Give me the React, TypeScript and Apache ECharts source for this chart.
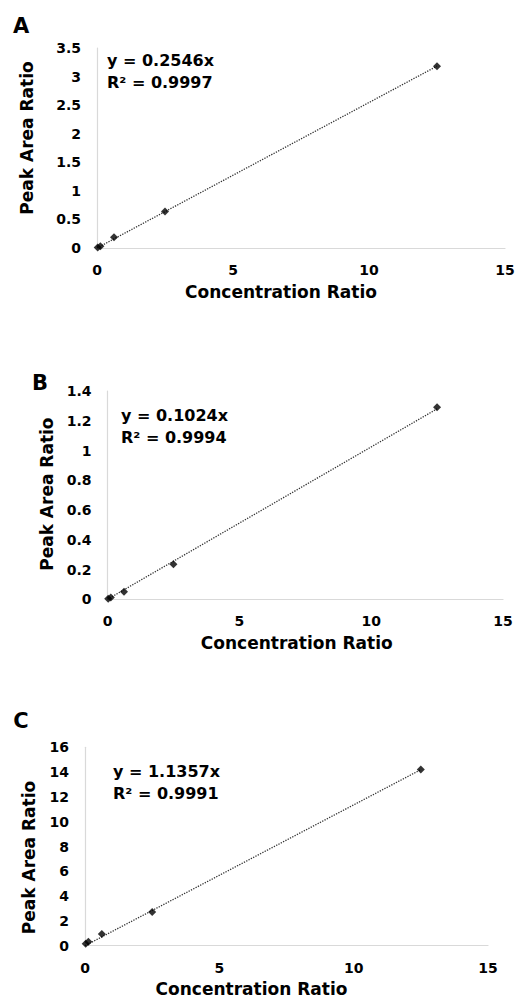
import React, { useEffect, useRef } from "react";
import * as echarts from "echarts";

const panelLetters = ["A", "B", "C"];
const concentrationRatio = [0.025, 0.125, 0.625, 2.5, 12.5];
const peakAreaA = [0.008, 0.03, 0.19, 0.64, 3.18];
const peakAreaB = [0.003, 0.012, 0.051, 0.235, 1.29];
const peakAreaC = [0.15, 0.32, 0.94, 2.72, 14.2];
const slopes = [0.2546, 0.1024, 1.1357];
const rSquared = ["0.9997", "0.9994", "0.9991"];
const yMax = [3.5, 1.4, 16];
const yInterval = [0.5, 0.2, 2];
const xTicks = [0, 5, 10, 15];

const FONT = "'DejaVu Sans', 'Liberation Sans', Arial, sans-serif";

export default function App() {
  const ref = useRef<HTMLDivElement>(null);
  useEffect(() => {
    if (!ref.current) return;
    const chart = echarts.init(ref.current, null, { renderer: "svg" });
    const peaks = [peakAreaA, peakAreaB, peakAreaC];
    const grids = [
      { left: 97, top: 48, width: 408, height: 200 },
      { left: 107.5, top: 391, width: 395.5, height: 208.3 },
      { left: 85, top: 747.3, width: 403, height: 198.4 },
    ];
    const nameGapY = [62, 52, 48];
    const yNamePad = [
      [0, 0, 0, 20],
      [0, 0, 0, 2],
      [0, 22, 0, 0],
    ];
    const xNamePad = [
      [0, 40, 0, 0],
      [0, 17, 0, 0],
      [0, 70, 0, 0],
    ];
    const letterPos = [
      [21, 26],
      [40, 383],
      [21, 721],
    ];
    const eqPos = [
      [107, 60, 82],
      [121, 415.7, 437.3],
      [113, 771, 793.3],
    ];
    const axisLabelStyle = {
      color: "#000",
      fontWeight: "bold" as const,
      fontFamily: FONT,
      fontSize: 14,
    };
    const nameStyle = {
      color: "#000",
      fontWeight: "bold" as const,
      fontFamily: FONT,
      fontSize: 17,
    };
    const xAxes = grids.map((_, i) => ({
      type: "value",
      gridIndex: i,
      min: xTicks[0],
      max: xTicks[xTicks.length - 1],
      interval: 5,
      axisLine: { lineStyle: { color: "#d9d9d9", width: 1.2 } },
      axisTick: { show: false },
      splitLine: { show: false },
      axisLabel: { ...axisLabelStyle, margin: 15 },
      name: "Concentration Ratio",
      nameLocation: "middle",
      nameGap: 35,
      nameTextStyle: { ...nameStyle, verticalAlign: "top", padding: xNamePad[i] },
    }));
    const yAxes = grids.map((_, i) => ({
      type: "value",
      gridIndex: i,
      min: 0,
      max: yMax[i],
      interval: yInterval[i],
      axisLine: { show: true, lineStyle: { color: "#d9d9d9", width: 1.2 } },
      axisTick: { show: false },
      splitLine: { show: false },
      axisLabel: { ...axisLabelStyle, margin: 16 },
      name: "Peak Area Ratio",
      nameLocation: "middle",
      nameGap: nameGapY[i],
      nameTextStyle: { ...nameStyle, padding: yNamePad[i] },
    }));
    const series: any[] = [];
    peaks.forEach((p, i) => {
      const last = concentrationRatio[concentrationRatio.length - 1];
      series.push({
        type: "line",
        xAxisIndex: i,
        yAxisIndex: i,
        data: [
          [0, 0],
          [last, slopes[i] * last],
        ],
        showSymbol: false,
        symbol: "none",
        lineStyle: { color: "#333", width: 1.3, type: "dotted" },
        z: 2,
      });
      series.push({
        type: "scatter",
        xAxisIndex: i,
        yAxisIndex: i,
        data: concentrationRatio.map((c, k) => [c, p[k]]),
        symbol: "diamond",
        symbolSize: [8, 8],
        itemStyle: { color: "#000" },
        z: 3,
      });
    });
    const graphic: any[] = [];
    panelLetters.forEach((l, i) => {
      graphic.push({
        type: "text",
        x: letterPos[i][0],
        y: letterPos[i][1],
        style: {
          text: l,
          fill: "#000",
          font: `bold 21px ${FONT}`,
          align: "center",
          verticalAlign: "middle",
        },
      });
      graphic.push({
        type: "text",
        x: eqPos[i][0],
        y: eqPos[i][1],
        style: {
          text: `y = ${slopes[i].toFixed(4)}x`,
          fill: "#000",
          font: `bold 16px ${FONT}`,
          align: "left",
          verticalAlign: "middle",
        },
      });
      graphic.push({
        type: "text",
        x: eqPos[i][0],
        y: eqPos[i][2],
        style: {
          text: `R² = ${rSquared[i]}`,
          fill: "#000",
          font: `bold 16px ${FONT}`,
          align: "left",
          verticalAlign: "middle",
        },
      });
    });
    chart.setOption({
      animation: false,
      backgroundColor: "#fff",
      grid: grids,
      xAxis: xAxes,
      yAxis: yAxes,
      series,
      graphic,
    });
    return () => chart.dispose();
  }, []);
  return (
    <div
      ref={ref}
      style={{ position: "fixed", left: 0, top: 0, width: 518, height: 1001 }}
    />
  );
}
